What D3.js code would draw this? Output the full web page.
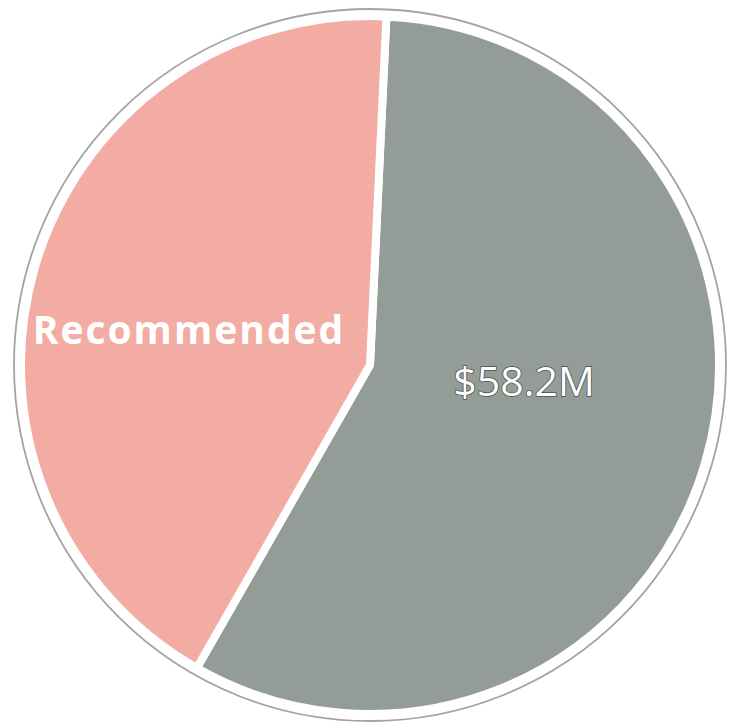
<!DOCTYPE html>
<html>
<head>
<meta charset="utf-8">
<script src="https://cdn.jsdelivr.net/npm/d3@7"></script>
<style>
  body { margin: 0; background: #fff; }
  svg { display: block; }
</style>
</head>
<body>
<div id="container"></div>
<script>
/* CONSTANTS AND GLOBALS */
const width = 730;
const height = 725;
const cx = 370, cy = 365;
const radius = 349;

/* DATA */
const categories = ["Funded", "Recommended"];
const values = [58.2, 43.0];
const labels = ["$58.2M", "Recommended"];
const colors = ["#939c96", "#f2aca4"];

const data = categories.map((c, i) => ({ category: c, value: values[i], label: labels[i] }));

/* SCALES */
const colorScale = d3.scaleOrdinal()
  .domain(categories)
  .range(colors);

const startAngle = 2.7 * Math.PI / 180;
const pie = d3.pie()
  .sort(null)
  .value(d => d.value)
  .startAngle(startAngle)
  .endAngle(startAngle + 2 * Math.PI);

const arc = d3.arc()
  .innerRadius(0)
  .outerRadius(radius);

const labelArc = d3.arc()
  .innerRadius(175)
  .outerRadius(175);

/* HTML ELEMENTS */
const svg = d3.select("#container")
  .append("svg")
  .attr("width", width)
  .attr("height", height);

const g = svg.append("g")
  .attr("transform", `translate(${cx},${cy})`);

// white ring with a thin grey rim, like the printed border
g.append("circle")
  .attr("r", radius + 7)
  .attr("fill", "#fff")
  .attr("stroke", "#a3a4a2")
  .attr("stroke-width", 1.8);

g.selectAll("path.slice")
  .data(pie(data))
  .join("path")
  .attr("class", "slice")
  .attr("d", arc)
  .attr("fill", d => colorScale(d.data.category))
  .attr("stroke", "#fff")
  .attr("stroke-width", 8)
  .attr("stroke-linejoin", "round");

// labels
const nudge = { "Funded": [-14, -34], "Recommended": [-13, 12] };

g.selectAll("text.lbl")
  .data(pie(data))
  .join("text")
  .attr("class", "lbl")
  .attr("transform", d => {
    const [x, y] = labelArc.centroid(d);
    const [nx, ny] = nudge[d.data.category];
    return `translate(${x + nx},${y + ny})`;
  })
  .attr("text-anchor", "middle")
  .attr("dominant-baseline", "central")
  .attr("fill", "#fff")
  .attr("stroke", d => d.data.category === "Funded" ? "#4a4f4c" : "none")
  .attr("stroke-width", 1.5)
  .attr("paint-order", "stroke")
  .style("font-family", "'Open Sans', 'Noto Sans', sans-serif")
  .style("font-size", d => d.data.category === "Funded" ? "41px" : "39px")
  .style("font-weight", d => d.data.category === "Funded" ? 400 : 700)
  .style("letter-spacing", d => d.data.category === "Funded" ? "0px" : "2px")
  .text(d => d.data.label);
</script>
</body>
</html>
